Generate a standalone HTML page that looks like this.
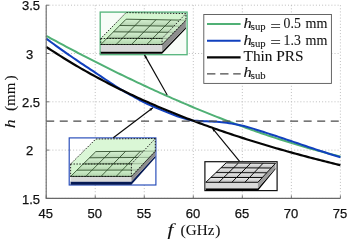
<!DOCTYPE html><html><head><meta charset="utf-8"><title>plot</title>
<style>html,body{margin:0;padding:0;background:#fff}svg{display:block}.t{font-family:"Liberation Sans",sans-serif;font-size:13px;fill:#111;stroke:#111;stroke-width:0.25px}.s{font-family:"Liberation Serif",serif;fill:#111;stroke:#111;stroke-width:0.08px}</style></head><body>
<svg width="350" height="242" viewBox="0 0 350 242">
<rect width="350" height="242" fill="#fff"/>
<path d="M46.20,5.2 V198.4 M95.23,5.2 V198.4 M144.27,5.2 V198.4 M193.30,5.2 V198.4 M242.33,5.2 V198.4 M291.37,5.2 V198.4 M340.40,5.2 V198.4 M46.2,5.20 H340.4 M46.2,53.50 H340.4 M46.2,101.80 H340.4 M46.2,150.10 H340.4 M46.2,198.40 H340.4" stroke="#b8b8b8" stroke-width="0.9" stroke-dasharray="1,2.1" fill="none"/>
<path d="M46.20,35.85 L48.67,37.20 L51.14,38.54 L53.62,39.88 L56.09,41.22 L58.56,42.55 L61.03,43.88 L63.51,45.20 L65.98,46.52 L68.45,47.83 L70.92,49.14 L73.39,50.44 L75.87,51.74 L78.34,53.03 L80.81,54.32 L83.28,55.61 L85.76,56.88 L88.23,58.16 L90.70,59.43 L93.17,60.69 L95.65,61.95 L98.12,63.20 L100.59,64.45 L103.06,65.69 L105.53,66.93 L108.01,68.17 L110.48,69.39 L112.95,70.62 L115.42,71.83 L117.90,73.05 L120.37,74.25 L122.84,75.45 L125.31,76.65 L127.78,77.84 L130.26,79.02 L132.73,80.20 L135.20,81.38 L137.67,82.55 L140.15,83.71 L142.62,84.86 L145.09,86.02 L147.56,87.16 L150.04,88.30 L152.51,89.44 L154.98,90.56 L157.45,91.69 L159.92,92.80 L162.40,93.91 L164.87,95.02 L167.34,96.12 L169.81,97.21 L172.29,98.30 L174.76,99.38 L177.23,100.45 L179.70,101.52 L182.17,102.59 L184.65,103.64 L187.12,104.69 L189.59,105.74 L192.06,106.78 L194.54,107.81 L197.01,108.83 L199.48,109.85 L201.95,110.87 L204.43,111.87 L206.90,112.87 L209.37,113.87 L211.84,114.85 L214.31,115.83 L216.79,116.81 L219.26,117.77 L221.73,118.74 L224.20,119.69 L226.68,120.64 L229.15,121.58 L231.62,122.51 L234.09,123.44 L236.56,124.36 L239.04,125.27 L241.51,126.18 L243.98,127.08 L246.45,127.97 L248.93,128.86 L251.40,129.74 L253.87,130.61 L256.34,131.48 L258.82,132.33 L261.29,133.19 L263.76,134.03 L266.23,134.87 L268.70,135.70 L271.18,136.52 L273.65,137.33 L276.12,138.14 L278.59,138.94 L281.07,139.74 L283.54,140.52 L286.01,141.30 L288.48,142.07 L290.95,142.83 L293.43,143.59 L295.90,144.34 L298.37,145.08 L300.84,145.81 L303.32,146.54 L305.79,147.26 L308.26,147.97 L310.73,148.67 L313.21,149.37 L315.68,150.05 L318.15,150.73 L320.62,151.41 L323.09,152.07 L325.57,152.73 L328.04,153.37 L330.51,154.01 L332.98,154.65 L335.46,155.27 L337.93,155.89 L340.40,156.50" stroke="#50b075" stroke-width="2" fill="none"/>
<path d="M46.20,38.58 L48.67,40.41 L51.14,42.22 L53.62,44.02 L56.09,45.80 L58.56,47.58 L61.03,49.34 L63.51,51.09 L65.98,52.83 L68.45,54.56 L70.92,56.28 L73.39,57.99 L75.87,59.69 L78.34,61.37 L80.81,63.03 L83.28,64.68 L85.76,66.31 L88.23,67.94 L90.70,69.56 L93.17,71.19 L95.65,72.82 L98.12,74.48 L100.59,76.14 L103.06,77.82 L105.53,79.50 L108.01,81.17 L110.48,82.82 L112.95,84.45 L115.42,86.06 L117.90,87.62 L120.37,89.14 L122.84,90.61 L125.31,92.04 L127.78,93.44 L130.26,94.83 L132.73,96.20 L135.20,97.57 L137.67,98.95 L140.15,100.32 L142.62,101.64 L145.09,102.86 L147.56,104.02 L150.04,105.12 L152.51,106.19 L154.98,107.24 L157.45,108.28 L159.92,109.33 L162.40,110.38 L164.87,111.41 L167.34,112.41 L169.81,113.39 L172.29,114.35 L174.76,115.29 L177.23,116.18 L179.70,117.02 L182.17,117.83 L184.65,118.57 L187.12,119.24 L189.59,119.90 L192.06,120.44 L194.54,120.72 L197.01,120.89 L199.48,121.02 L201.95,121.13 L204.43,121.24 L206.90,121.33 L209.37,121.42 L211.84,121.52 L214.31,121.65 L216.79,121.83 L219.26,122.04 L221.73,122.27 L224.20,122.54 L226.68,122.83 L229.15,123.16 L231.62,123.56 L234.09,124.00 L236.56,124.48 L239.04,125.00 L241.51,125.54 L243.98,126.11 L246.45,126.73 L248.93,127.41 L251.40,128.13 L253.87,128.89 L256.34,129.67 L258.82,130.47 L261.29,131.27 L263.76,132.07 L266.23,132.86 L268.70,133.64 L271.18,134.44 L273.65,135.24 L276.12,136.05 L278.59,136.87 L281.07,137.70 L283.54,138.53 L286.01,139.36 L288.48,140.19 L290.95,141.02 L293.43,141.85 L295.90,142.69 L298.37,143.53 L300.84,144.38 L303.32,145.22 L305.79,146.07 L308.26,146.91 L310.73,147.75 L313.21,148.57 L315.68,149.39 L318.15,150.20 L320.62,151.01 L323.09,151.81 L325.57,152.60 L328.04,153.40 L330.51,154.18 L332.98,154.96 L335.46,155.74 L337.93,156.51 L340.40,157.28" stroke="#1140be" stroke-width="2.05" fill="none"/>
<path d="M46.20,46.82 L48.67,48.46 L51.14,50.08 L53.62,51.70 L56.09,53.29 L58.56,54.87 L61.03,56.43 L63.51,57.98 L65.98,59.51 L68.45,61.02 L70.92,62.52 L73.39,63.99 L75.87,65.46 L78.34,66.91 L80.81,68.34 L83.28,69.76 L85.76,71.16 L88.23,72.55 L90.70,73.93 L93.17,75.29 L95.65,76.63 L98.12,77.97 L100.59,79.29 L103.06,80.60 L105.53,81.89 L108.01,83.17 L110.48,84.44 L112.95,85.70 L115.42,86.94 L117.90,88.18 L120.37,89.40 L122.84,90.61 L125.31,91.80 L127.78,92.99 L130.26,94.17 L132.73,95.33 L135.20,96.48 L137.67,97.63 L140.15,98.76 L142.62,99.88 L145.09,100.99 L147.56,102.09 L150.04,103.18 L152.51,104.27 L154.98,105.34 L157.45,106.40 L159.92,107.45 L162.40,108.50 L164.87,109.53 L167.34,110.56 L169.81,111.57 L172.29,112.58 L174.76,113.58 L177.23,114.57 L179.70,115.55 L182.17,116.52 L184.65,117.49 L187.12,118.44 L189.59,119.39 L192.06,120.33 L194.54,121.27 L197.01,122.19 L199.48,123.11 L201.95,124.02 L204.43,124.92 L206.90,125.81 L209.37,126.70 L211.84,127.58 L214.31,128.45 L216.79,129.32 L219.26,130.18 L221.73,131.03 L224.20,131.88 L226.68,132.71 L229.15,133.55 L231.62,134.37 L234.09,135.19 L236.56,136.00 L239.04,136.81 L241.51,137.61 L243.98,138.40 L246.45,139.19 L248.93,139.97 L251.40,140.75 L253.87,141.52 L256.34,142.28 L258.82,143.04 L261.29,143.79 L263.76,144.54 L266.23,145.28 L268.70,146.01 L271.18,146.74 L273.65,147.47 L276.12,148.19 L278.59,148.90 L281.07,149.61 L283.54,150.31 L286.01,151.01 L288.48,151.70 L290.95,152.39 L293.43,153.08 L295.90,153.76 L298.37,154.43 L300.84,155.10 L303.32,155.76 L305.79,156.42 L308.26,157.08 L310.73,157.73 L313.21,158.37 L315.68,159.01 L318.15,159.65 L320.62,160.28 L323.09,160.91 L325.57,161.54 L328.04,162.16 L330.51,162.77 L332.98,163.38 L335.46,163.99 L337.93,164.59 L340.40,165.19" stroke="#050505" stroke-width="2.2" fill="none"/>
<path d="M46.2,121.12 H340.4" stroke="#4a4a4a" stroke-width="1.15" stroke-dasharray="8,5.55" fill="none"/>
<path d="M46.2,5.2 V198.4 H340.4" stroke="#686868" stroke-width="1.1" fill="none"/>
<path d="M46.20,198.4 v-3 M95.23,198.4 v-3 M144.27,198.4 v-3 M193.30,198.4 v-3 M242.33,198.4 v-3 M291.37,198.4 v-3 M340.40,198.4 v-3 M46.2,5.20 h3 M46.2,53.50 h3 M46.2,101.80 h3 M46.2,150.10 h3 M46.2,198.40 h3" stroke="#686868" stroke-width="0.9" fill="none"/>
<text class="t" x="45.8" y="218.1" text-anchor="middle">45</text>
<text class="t" x="94.8" y="218.1" text-anchor="middle">50</text>
<text class="t" x="143.9" y="218.1" text-anchor="middle">55</text>
<text class="t" x="192.9" y="218.1" text-anchor="middle">60</text>
<text class="t" x="241.9" y="218.1" text-anchor="middle">65</text>
<text class="t" x="291.0" y="218.1" text-anchor="middle">70</text>
<text class="t" x="340.0" y="218.1" text-anchor="middle">75</text>
<text class="t" x="30.95" y="10.4" text-anchor="middle">3.5</text>
<text class="t" x="29.65" y="58.7" text-anchor="middle">3</text>
<text class="t" x="30.95" y="107.0" text-anchor="middle">2.5</text>
<text class="t" x="29.65" y="155.3" text-anchor="middle">2</text>
<text class="t" x="30.95" y="203.6" text-anchor="middle">1.5</text>
<text class="s" font-size="16" font-style="italic" textLength="5.9" lengthAdjust="spacingAndGlyphs" x="167.6" y="235.2">f</text>
<text class="s" font-size="14.4" textLength="5.2" lengthAdjust="spacingAndGlyphs" x="180.4" y="235.1">(</text>
<text class="s" font-size="14.4" textLength="28.6" lengthAdjust="spacingAndGlyphs" x="185.8" y="235.1">GHz</text>
<text class="s" font-size="14.4" textLength="5.2" lengthAdjust="spacingAndGlyphs" x="215.2" y="235.1">)</text>
<text class="s" font-size="15.2" font-style="italic" textLength="8.6" lengthAdjust="spacingAndGlyphs" transform="translate(15,128.0) rotate(-90)">h</text>
<text class="s" font-size="14.4" textLength="5.2" lengthAdjust="spacingAndGlyphs" transform="translate(15,111.0) rotate(-90)">(</text>
<text class="s" font-size="14.4" textLength="23.3" lengthAdjust="spacingAndGlyphs" transform="translate(15,105.9) rotate(-90)">mm</text>
<text class="s" font-size="14.4" textLength="5.2" lengthAdjust="spacingAndGlyphs" transform="translate(15,80.6) rotate(-90)">)</text>
<rect x="100.2" y="12.1" width="86.9" height="42.6" fill="#f7fcf7" stroke="#58b67e" stroke-width="1.35"/>
<polygon points="100.80,51.40 162.10,51.40 185.90,27.10 185.90,28.70 162.10,53.80 100.80,53.80" fill="#000"/>
<polygon points="100.80,44.50 162.10,44.50 162.10,51.40 100.80,51.40" fill="#d9d9d9"/>
<polygon points="162.10,44.50 185.90,20.20 185.90,27.10 162.10,51.40" fill="#8e8e8e"/>
<polygon points="100.80,44.50 162.10,44.50 185.90,20.20 126.10,19.20" fill="#e8e8e8"/>
<linearGradient id="g100r0" gradientUnits="userSpaceOnUse" x1="0" y1="44.50" x2="0" y2="38.17"><stop offset="0" stop-color="#cecece"/><stop offset="1" stop-color="#f8f8f8"/></linearGradient>
<polygon points="100.80,44.50 162.10,44.50 168.05,38.42 107.12,38.17" fill="url(#g100r0)"/>
<linearGradient id="g100r1" gradientUnits="userSpaceOnUse" x1="0" y1="38.17" x2="0" y2="31.85"><stop offset="0" stop-color="#cecece"/><stop offset="1" stop-color="#f8f8f8"/></linearGradient>
<polygon points="107.12,38.17 168.05,38.42 174.00,32.35 113.45,31.85" fill="url(#g100r1)"/>
<linearGradient id="g100r2" gradientUnits="userSpaceOnUse" x1="0" y1="31.85" x2="0" y2="25.52"><stop offset="0" stop-color="#cecece"/><stop offset="1" stop-color="#f8f8f8"/></linearGradient>
<polygon points="113.45,31.85 174.00,32.35 179.95,26.27 119.77,25.52" fill="url(#g100r2)"/>
<linearGradient id="g100r3" gradientUnits="userSpaceOnUse" x1="0" y1="25.52" x2="0" y2="19.20"><stop offset="0" stop-color="#cecece"/><stop offset="1" stop-color="#f8f8f8"/></linearGradient>
<polygon points="119.77,25.52 179.95,26.27 185.90,20.20 126.10,19.20" fill="url(#g100r3)"/>
<path d="M100.80,44.50 L162.10,44.50 M100.80,44.50 L126.10,19.20 M107.12,38.17 L168.05,38.42 M116.12,44.50 L141.05,19.45 M113.45,31.85 L174.00,32.35 M131.45,44.50 L156.00,19.70 M119.77,25.52 L179.95,26.27 M146.77,44.50 L170.95,19.95 M126.10,19.20 L185.90,20.20 M162.10,44.50 L185.90,20.20" stroke="#0c0c0c" stroke-width="0.85" fill="none"/>
<polygon points="100.80,38.50 162.10,38.50 185.90,13.60 126.10,12.60" fill="#78e169" fill-opacity="0.27"/>
<polygon points="100.80,38.50 162.10,38.50 162.10,44.50 100.80,44.50" fill="#78e169" fill-opacity="0.32"/>
<polygon points="162.10,38.50 185.90,13.60 185.90,20.20 162.10,44.50" fill="#c2eabc" fill-opacity="0.72"/>
<path d="M100.80,38.50 L162.10,38.50 L185.90,13.60 L126.10,12.60 Z M100.80,38.50 L100.80,44.50 L162.10,44.50 L162.10,38.50 M162.10,44.50 L185.90,20.20 L185.90,13.60" stroke="#101010" stroke-width="0.9" stroke-dasharray="1.5,1.4" fill="none"/>
<rect x="69.2" y="137.9" width="86.7" height="47.1" fill="#fff" stroke="#2349b8" stroke-width="1.15"/>
<path d="M70,150.10 H85" stroke="#b8b8b8" stroke-width="0.9" stroke-dasharray="1,2.1" fill="none"/>
<polygon points="70.60,181.60 131.40,181.60 155.30,155.80 155.30,157.80 131.40,184.80 70.60,184.80" fill="#061a55"/>
<polygon points="70.60,176.40 131.40,176.40 131.40,181.60 70.60,181.60" fill="#d9d9d9"/>
<polygon points="131.40,176.40 155.30,151.10 155.30,155.80 131.40,181.60" fill="#8e8e8e"/>
<polygon points="70.60,176.40 131.40,176.40 155.30,151.10 95.80,151.60" fill="#e8e8e8"/>
<linearGradient id="g70r0" gradientUnits="userSpaceOnUse" x1="0" y1="176.40" x2="0" y2="170.20"><stop offset="0" stop-color="#cecece"/><stop offset="1" stop-color="#f8f8f8"/></linearGradient>
<polygon points="70.60,176.40 131.40,176.40 137.37,170.07 76.90,170.20" fill="url(#g70r0)"/>
<linearGradient id="g70r1" gradientUnits="userSpaceOnUse" x1="0" y1="170.20" x2="0" y2="164.00"><stop offset="0" stop-color="#cecece"/><stop offset="1" stop-color="#f8f8f8"/></linearGradient>
<polygon points="76.90,170.20 137.37,170.07 143.35,163.75 83.20,164.00" fill="url(#g70r1)"/>
<linearGradient id="g70r2" gradientUnits="userSpaceOnUse" x1="0" y1="164.00" x2="0" y2="157.80"><stop offset="0" stop-color="#cecece"/><stop offset="1" stop-color="#f8f8f8"/></linearGradient>
<polygon points="83.20,164.00 143.35,163.75 149.32,157.43 89.50,157.80" fill="url(#g70r2)"/>
<linearGradient id="g70r3" gradientUnits="userSpaceOnUse" x1="0" y1="157.80" x2="0" y2="151.60"><stop offset="0" stop-color="#cecece"/><stop offset="1" stop-color="#f8f8f8"/></linearGradient>
<polygon points="89.50,157.80 149.32,157.43 155.30,151.10 95.80,151.60" fill="url(#g70r3)"/>
<path d="M70.60,176.40 L131.40,176.40 M70.60,176.40 L95.80,151.60 M76.90,170.20 L137.37,170.07 M85.80,176.40 L110.67,151.47 M83.20,164.00 L143.35,163.75 M101.00,176.40 L125.55,151.35 M89.50,157.80 L149.32,157.43 M116.20,176.40 L140.42,151.22 M95.80,151.60 L155.30,151.10 M131.40,176.40 L155.30,151.10" stroke="#0c0c0c" stroke-width="0.85" fill="none"/>
<polygon points="70.60,164.00 131.40,164.00 155.30,138.50 95.80,139.00" fill="#78e169" fill-opacity="0.27"/>
<polygon points="70.60,164.00 131.40,164.00 131.40,176.40 70.60,176.40" fill="#78e169" fill-opacity="0.32"/>
<polygon points="131.40,164.00 155.30,138.50 155.30,151.10 131.40,176.40" fill="#c2eabc" fill-opacity="0.72"/>
<path d="M70.60,164.00 L131.40,164.00 L155.30,138.50 L95.80,139.00 Z M70.60,164.00 L70.60,176.40 L131.40,176.40 L131.40,164.00 M131.40,176.40 L155.30,151.10 L155.30,138.50" stroke="#101010" stroke-width="0.9" stroke-dasharray="1.5,1.4" fill="none"/>
<rect x="204.9" y="161.7" width="72.2" height="28.9" fill="#fff" stroke="#111" stroke-width="1.2"/>
<polygon points="205.80,188.30 257.90,188.30 275.50,167.90 275.50,169.30 257.90,190.80 205.80,190.80" fill="#000"/>
<polygon points="205.80,182.30 257.90,182.30 257.90,188.30 205.80,188.30" fill="#d9d9d9"/>
<polygon points="257.90,182.30 275.50,163.30 275.50,167.90 257.90,188.30" fill="#9c9c9c"/>
<polygon points="205.80,182.30 257.90,182.30 275.50,163.30 226.10,162.90" fill="#e8e8e8"/>
<linearGradient id="g205r0" gradientUnits="userSpaceOnUse" x1="0" y1="182.30" x2="0" y2="177.45"><stop offset="0" stop-color="#bdbdbd"/><stop offset="1" stop-color="#f2f2f2"/></linearGradient>
<polygon points="205.80,182.30 257.90,182.30 262.30,177.55 210.88,177.45" fill="url(#g205r0)"/>
<linearGradient id="g205r1" gradientUnits="userSpaceOnUse" x1="0" y1="177.45" x2="0" y2="172.60"><stop offset="0" stop-color="#bdbdbd"/><stop offset="1" stop-color="#f2f2f2"/></linearGradient>
<polygon points="210.88,177.45 262.30,177.55 266.70,172.80 215.95,172.60" fill="url(#g205r1)"/>
<linearGradient id="g205r2" gradientUnits="userSpaceOnUse" x1="0" y1="172.60" x2="0" y2="167.75"><stop offset="0" stop-color="#bdbdbd"/><stop offset="1" stop-color="#f2f2f2"/></linearGradient>
<polygon points="215.95,172.60 266.70,172.80 271.10,168.05 221.03,167.75" fill="url(#g205r2)"/>
<linearGradient id="g205r3" gradientUnits="userSpaceOnUse" x1="0" y1="167.75" x2="0" y2="162.90"><stop offset="0" stop-color="#bdbdbd"/><stop offset="1" stop-color="#f2f2f2"/></linearGradient>
<polygon points="221.03,167.75 271.10,168.05 275.50,163.30 226.10,162.90" fill="url(#g205r3)"/>
<path d="M205.80,182.30 L257.90,182.30 M205.80,182.30 L226.10,162.90 M210.88,177.45 L262.30,177.55 M218.83,182.30 L238.45,163.00 M215.95,172.60 L266.70,172.80 M231.85,182.30 L250.80,163.10 M221.03,167.75 L271.10,168.05 M244.88,182.30 L263.15,163.20 M226.10,162.90 L275.50,163.30 M257.90,182.30 L275.50,163.30" stroke="#0c0c0c" stroke-width="1" fill="none"/>
<path d="M144.5,54.9 L167.2,95" stroke="#0a0a0a" stroke-width="1.15" fill="none"/><polygon points="144.50,54.90 145.04,58.50 147.31,57.22" fill="#0a0a0a"/>
<path d="M152.9,107.8 L113.3,137.8" stroke="#0a0a0a" stroke-width="1.15" fill="none"/><polygon points="152.90,107.80 149.40,108.82 150.97,110.89" fill="#0a0a0a"/>
<path d="M212.3,128.2 L239.6,161.4" stroke="#0a0a0a" stroke-width="1.15" fill="none"/><polygon points="212.30,128.20 213.46,131.65 215.46,130.00" fill="#0a0a0a"/>
<rect x="203.8" y="14.5" width="127.6" height="68.9" fill="#fff" stroke="#555" stroke-width="0.9"/>
<path d="M207,24.1 H240.6" stroke="#50b075" stroke-width="2"/>
<path d="M207,40.8 H240.6" stroke="#1140be" stroke-width="2.1"/>
<path d="M207,57.3 H240.6" stroke="#050505" stroke-width="2.3"/>
<path d="M207,73.9 H240.7" stroke="#4a4a4a" stroke-width="1.15" stroke-dasharray="8.4,4.7"/>
<text class="s" font-size="14.2" font-style="italic" textLength="8.3" lengthAdjust="spacingAndGlyphs" x="243.5" y="28.2">h</text><text class="s" font-size="10.4" textLength="14.8" lengthAdjust="spacingAndGlyphs" x="250.8" y="29.9">sup</text><text class="s" font-size="14.2" textLength="10.7" lengthAdjust="spacingAndGlyphs" x="270.2" y="30.599999999999998">=</text><text class="s" font-size="14.2" textLength="17.2" lengthAdjust="spacingAndGlyphs" x="283.6" y="28.2">0.5</text><text class="s" font-size="14.2" textLength="21.9" lengthAdjust="spacingAndGlyphs" x="305.6" y="28.2">mm</text>
<text class="s" font-size="14.2" font-style="italic" textLength="8.3" lengthAdjust="spacingAndGlyphs" x="243.5" y="44.8">h</text><text class="s" font-size="10.4" textLength="14.8" lengthAdjust="spacingAndGlyphs" x="250.8" y="46.5">sup</text><text class="s" font-size="14.2" textLength="10.7" lengthAdjust="spacingAndGlyphs" x="270.2" y="47.199999999999996">=</text><text class="s" font-size="14.2" textLength="17.2" lengthAdjust="spacingAndGlyphs" x="283.6" y="44.8">1.3</text><text class="s" font-size="14.2" textLength="21.9" lengthAdjust="spacingAndGlyphs" x="305.6" y="44.8">mm</text>
<text class="s" font-size="14.2" textLength="60" lengthAdjust="spacingAndGlyphs" x="243.6" y="61.1">Thin PRS</text>
<text class="s" font-size="14.2" font-style="italic" textLength="8.3" lengthAdjust="spacingAndGlyphs" x="243.5" y="77.1">h</text><text class="s" font-size="10.4" textLength="14.8" lengthAdjust="spacingAndGlyphs" x="250.8" y="78.8">sub</text>
</svg></body></html>
